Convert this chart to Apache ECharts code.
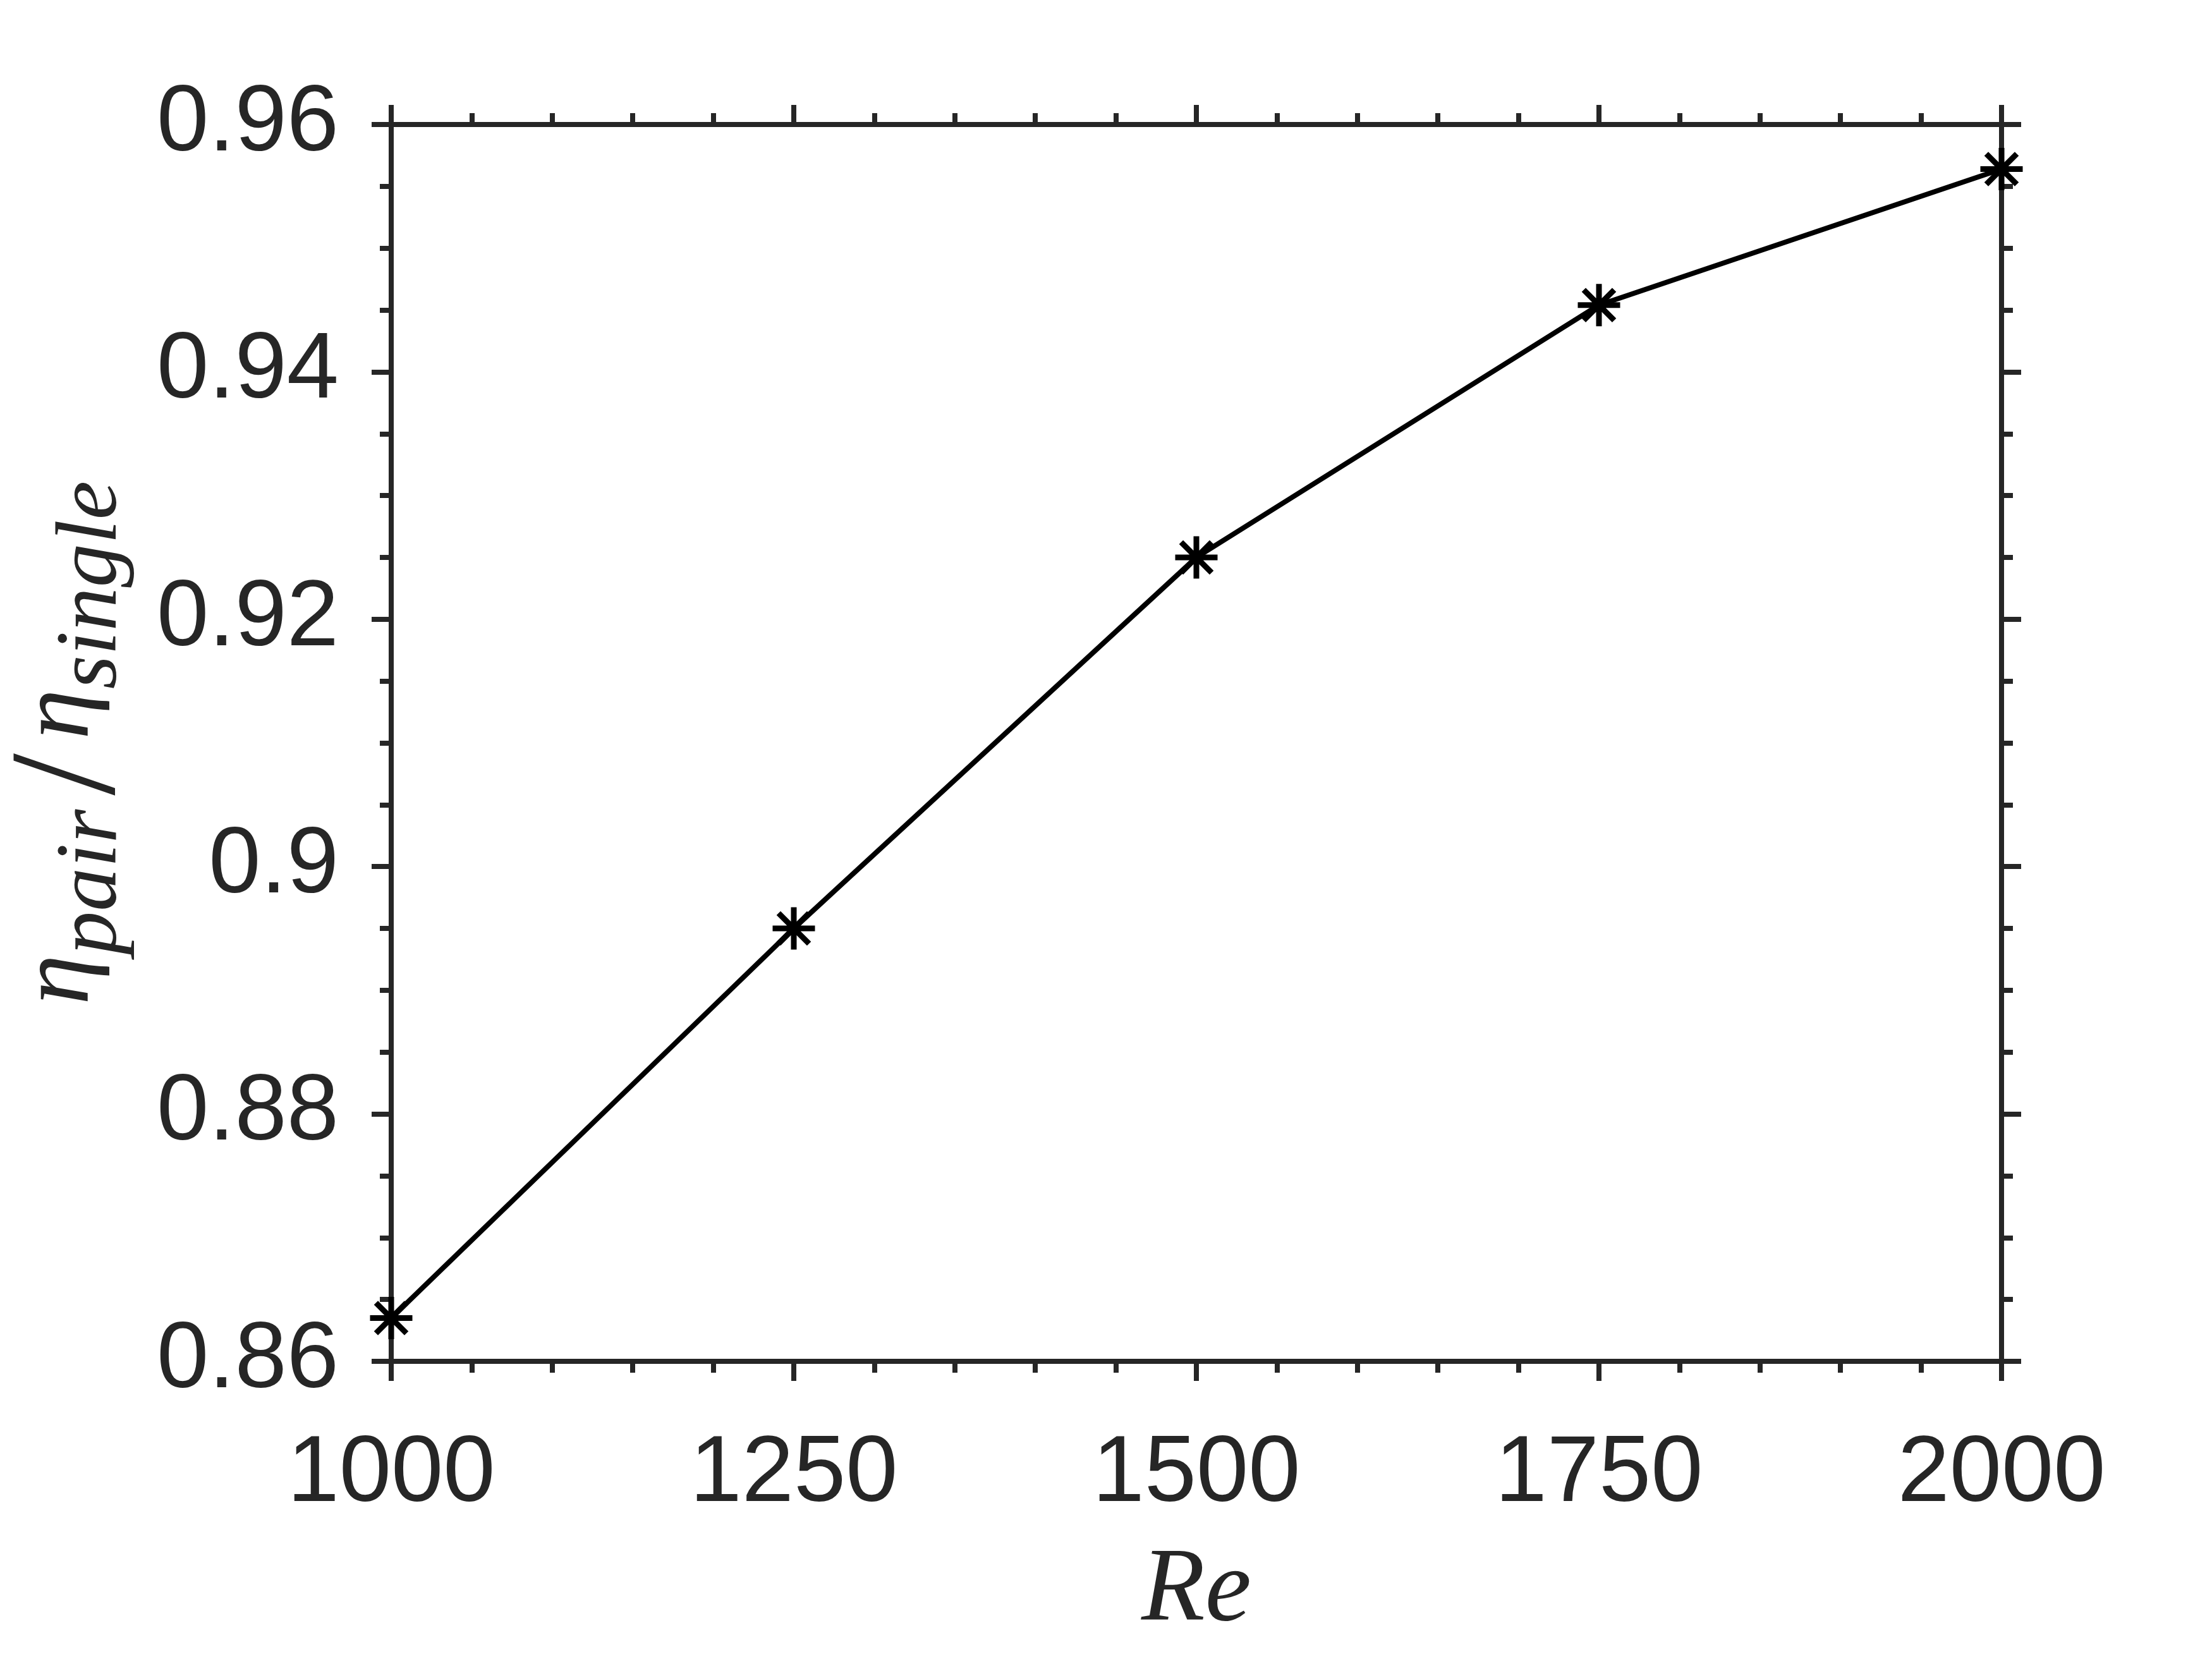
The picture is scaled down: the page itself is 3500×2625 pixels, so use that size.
<!DOCTYPE html>
<html>
<head>
<meta charset="utf-8">
<script src="https://cdn.jsdelivr.net/npm/echarts@6/dist/echarts.min.js"></script>
<style>
html,body{margin:0;padding:0;background:#fff;}
#chart{width:3500px;height:2625px;}
</style>
</head>
<body>
<div id="chart"></div>
<script>
// Data
const reValues = [1000, 1250, 1500, 1750, 2000];
const etaRatio = [0.8635, 0.8950, 0.9250, 0.9454, 0.9564];
const xTicks = [1000, 1250, 1500, 1750, 2000];
const yTicks = [0.86, 0.88, 0.9, 0.92, 0.94, 0.96];

const axisColor = '#262626';
const seriesData = reValues.map((x, i) => [x, etaRatio[i]]);

const chart = echarts.init(document.getElementById('chart'), null, {renderer: 'canvas'});

const xMin = xTicks[0], xMax = xTicks[xTicks.length - 1];
const xInt = xTicks[1] - xTicks[0];
const yMin = yTicks[0], yMax = yTicks[yTicks.length - 1];
const yInt = 0.02;

function baseAxis(extra) {
  return Object.assign({
    axisLine: {show: true, onZero: false, lineStyle: {color: axisColor, width: 8, cap: 'square'}},
    axisTick: {show: true, inside: false, length: 31, lineStyle: {color: axisColor, width: 8}},
    minorTick: {show: true, length: 18, lineStyle: {color: axisColor, width: 8}},
    splitLine: {show: false},
    minorSplitLine: {show: false}
  }, extra);
}

const labelStyle = {
  color: axisColor,
  fontFamily: 'Liberation Sans',
  fontSize: 148
};

const option = {
  backgroundColor: '#ffffff',
  animation: false,
  grid: {left: 619, right: 3500 - 3167, top: 197, bottom: 2625 - 2154, containLabel: false, outerBoundsMode: 'none'},
  xAxis: [
    baseAxis({
      type: 'value', position: 'bottom', min: xMin, max: xMax, interval: xInt,
      minorTick: {show: true, splitNumber: 5, length: 18, lineStyle: {color: axisColor, width: 8}},
      axisLabel: Object.assign({margin: 106, formatter: v => String(v)}, labelStyle),
      name: 'Re', nameLocation: 'middle', nameGap: 283,
      nameTextStyle: {fontFamily: 'Liberation Serif', fontStyle: 'italic', fontSize: 165, color: axisColor}
    }),
    baseAxis({
      type: 'value', position: 'top', min: xMin, max: xMax, interval: xInt,
      minorTick: {show: true, splitNumber: 5, length: 18, lineStyle: {color: axisColor, width: 8}},
      axisLabel: {show: false}
    })
  ],
  yAxis: [
    baseAxis({
      type: 'value', position: 'left', min: yMin, max: yMax, interval: yInt,
      minorTick: {show: true, splitNumber: 4, length: 18, lineStyle: {color: axisColor, width: 8}},
      axisLabel: Object.assign({margin: 83, formatter: v => String(+v.toFixed(2))}, labelStyle),
      name: '{e|η}{s|pair}{sl|/}{e|η}{s|single}',
      nameLocation: 'middle', nameGap: 362, nameRotate: 90,
      nameTextStyle: {
        color: axisColor,
        rich: {
          e: {fontFamily: 'Liberation Serif', fontStyle: 'italic', fontSize: 160, color: axisColor},
          s: {fontFamily: 'Liberation Serif', fontStyle: 'italic', fontSize: 138, color: axisColor, padding: [100, 0, 0, 0]},
          sl: {fontFamily: 'Liberation Serif', fontSize: 240, color: axisColor, padding: [40, 22, 0, 22]}
        }
      }
    }),
    baseAxis({
      type: 'value', position: 'right', min: yMin, max: yMax, interval: yInt,
      minorTick: {show: true, splitNumber: 4, length: 18, lineStyle: {color: axisColor, width: 8}},
      axisLabel: {show: false}
    })
  ],
  series: [{
    type: 'line',
    xAxisIndex: 0, yAxisIndex: 0,
    data: seriesData,
    clip: false,
    z: 10,
    lineStyle: {color: '#000000', width: 8},
    symbol: 'path://M0,-1L0,1M-1,0L1,0M-0.72,-0.72L0.72,0.72M-0.72,0.72L0.72,-0.72',
    symbolSize: 67,
    itemStyle: {color: '#000000', borderColor: '#000000', borderWidth: 9},
    emphasis: {disabled: true}
  }]
};

chart.setOption(option);
</script>
</body>
</html>
